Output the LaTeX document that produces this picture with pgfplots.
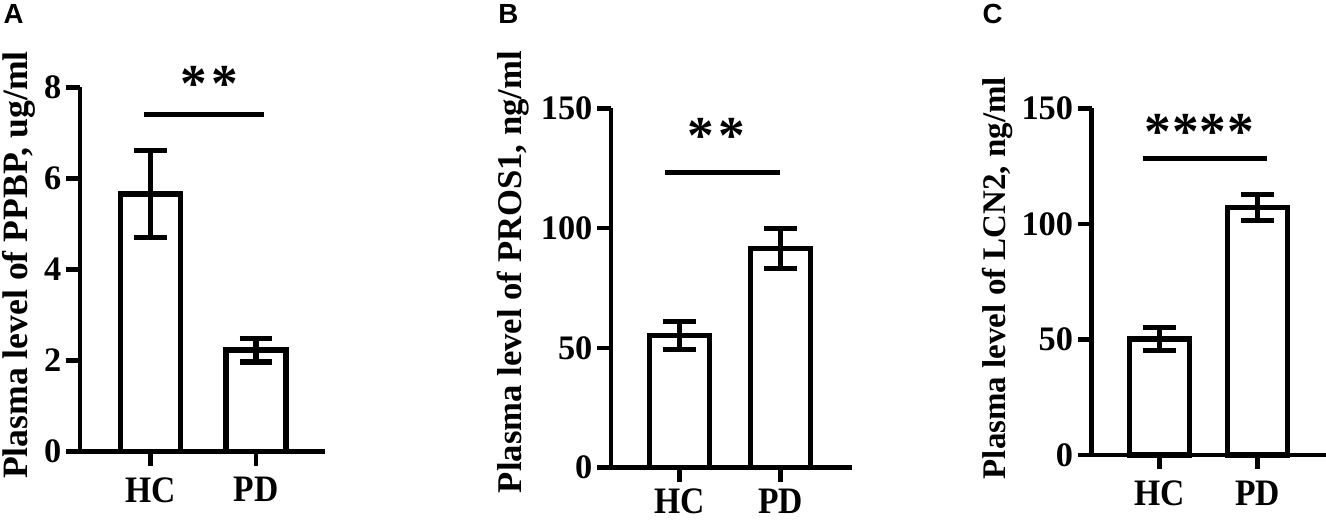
\documentclass[border=0pt]{standalone}
\usepackage{fontspec}
\setmainfont{Liberation Serif}
\newfontfamily\panelfont{Liberation Sans}
\newfontfamily\xfont[FakeStretch=0.9]{Liberation Serif}
\usepackage{pgfplots}
\pgfplotsset{compat=1.18}

\pgfplotsset{
  gpbar/.style={
    scale only axis,
    axis x line=bottom, axis y line=left,
    axis line style={-, line width=1.4pt},
    tick style={line width=1.4pt, black},
    tick align=outside,
    major tick length=4.2pt,
    xtick={1,2}, xticklabels={HC,PD},
    ymin=0, enlargelimits=false, clip=false,
    ybar, bar width=18pt,
    yticklabel style={font=\fontsize{10.3}{12}\selectfont\bfseries, inner xsep=1.2pt},
    xticklabel style={font=\xfont\fontsize{11.2}{12}\selectfont\bfseries},
    /pgf/number format/assume math mode=true,
    ylabel style={anchor=center},
  },
  gpdata/.style={
    draw=black, fill=white, line width=1.6pt, bar shift=0pt,
    error bars/.cd, y dir=both, y explicit,
    error bar style={line width=1.6pt},
    error mark options={rotate=90, mark size=4.9pt, line width=1.6pt},
  },
}
\tikzset{
  stars/.style={font=\fontsize{16}{16}\selectfont\bfseries, anchor=base, inner sep=0pt},
  letter/.style={font=\panelfont\fontsize{8.3}{9}\selectfont\bfseries, anchor=base west, inner sep=0pt},
}

\begin{document}
\begin{tikzpicture}
\useasboundingbox (0,0) rectangle (397.8pt,155.7pt);

% panel A
\begin{axis}[gpbar, at={(24pt,20.19pt)}, anchor=south west,
  width=73.5pt, height=109.32pt,
  xmin=0.327, xmax=2.656, ymax=8, ytick={0,2,4,6,8},
  ylabel={Plasma level of PPBP, ug/ml},
  ylabel style={font=\fontsize{10.7}{12}\selectfont\bfseries, at={(axis description cs:-0.249,0.512)}}]
  \addplot[gpdata] coordinates {(1,5.66) +- (0,0.95) (2,2.23) +- (0,0.26)};
  \draw[line width=1.5pt] (axis cs:0.935,7.41) -- (axis cs:2.076,7.41);
  \node[stars] at (axis cs:1.553,7.69) {*\kern1.3pt*};
\end{axis}

% panel B
\begin{axis}[gpbar, at={(183.3pt,15.39pt)}, anchor=south west,
  width=72.21pt, height=107.82pt,
  xmin=0.326, xmax=2.700, ymax=150, ytick={0,50,100,150},
  xticklabel style={yshift=1.3pt},
  ylabel={Plasma level of PROS1, ng/ml},
  ylabel style={font=\fontsize{10.4}{12}\selectfont\bfseries, at={(axis description cs:-0.407,0.5445)}}]
  \addplot[gpdata] coordinates {(1,55.2) +- (0,5.8) (2,91.5) +- (0,8.4)};
  \draw[line width=1.5pt] (axis cs:0.859,123.3) -- (axis cs:1.993,123.3);
  \node[stars] at (axis cs:1.361,131.2) {*\kern1.3pt*};
\end{axis}

% panel C
\begin{axis}[gpbar, at={(327.51pt,19.2pt)}, anchor=south west,
  width=70.29pt, height=104.01pt,
  xmin=0.313, xmax=2.694, ymax=150, ytick={0,50,100,150},
  ylabel={Plasma level of LCN2, ng/ml},
  ylabel style={font=\fontsize{9.9}{12}\selectfont\bfseries, at={(axis description cs:-0.404,0.5105)}}]
  \addplot[gpdata] coordinates {(1,50.2) +- (0,4.9) (2,107) +- (0,5.6)};
  \draw[line width=1.5pt] (axis cs:0.834,128.3) -- (axis cs:2.095,128.3);
  \node[stars] at (axis cs:1.408,132.2) {*\kern0.3pt*\kern0.3pt*\kern0.3pt*};
\end{axis}

\node[letter] at (0.9pt,148.5pt) {A};
\node[letter] at (149.3pt,148.5pt) {B};
\node[letter] at (294.6pt,148.5pt) {C};
\end{tikzpicture}
\end{document}
